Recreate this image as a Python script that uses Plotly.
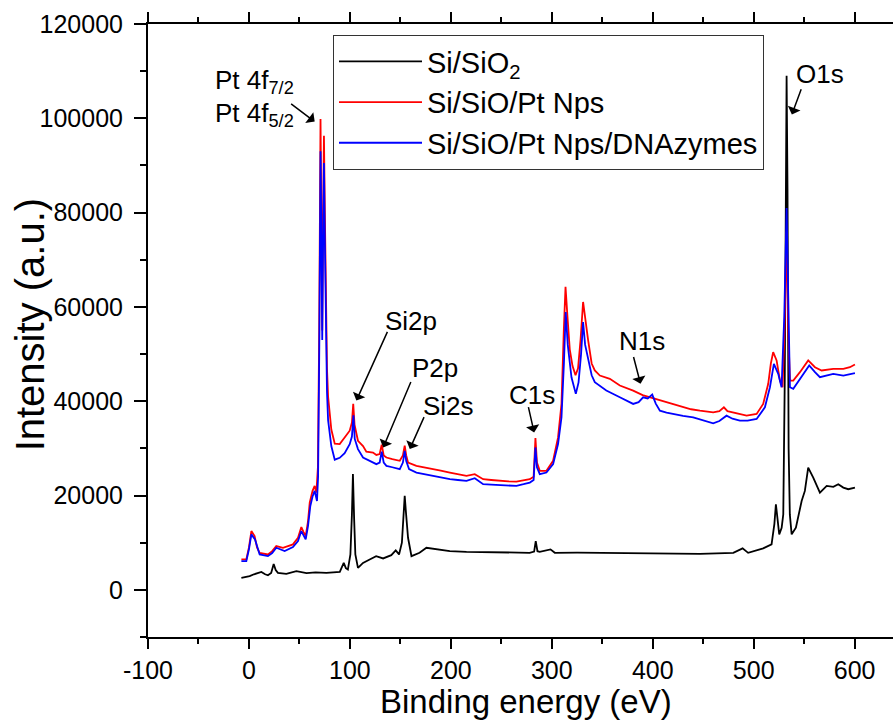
import plotly.graph_objects as go

# ---- data (binding energy eV, intensity a.u.) ----
black_x = [-7.5, -3, 0.7, 5, 12.3, 16, 18.8, 22, 24.5, 26.5, 28.7, 37, 47, 57, 66, 76.7, 85, 90, 93.9, 96, 98,
           100.5, 102, 103, 104.2, 105.4, 108, 113, 119.6, 126, 132.9, 141, 145.4, 148.7, 151.5, 153.3, 154.3,
           155.5, 157.6, 161, 169, 175.8, 185.7, 199, 215.5, 232, 248.5, 265, 278, 282.5, 284.1, 285.8, 288,
           298.7, 303, 325, 347.6, 380, 413.7, 446.7, 479.8, 489, 494.5, 509.4, 517.7, 520.5, 522, 523.5, 525.3,
           527.7, 529.3, 530.8, 531.8, 532.6, 533.5, 534.6, 535.8, 537.6, 541.8, 547.5, 550.7, 554, 559, 565.6,
           572.3, 578.9, 583.8, 588.8, 593.7, 600.3]
black_y = [2530, 2700, 2900, 3300, 3800, 3300, 3100, 3600, 5500, 4200, 3600, 3400, 3960, 3530, 3700, 3600, 3700,
           3800, 5720, 4600, 4300, 7500, 16000, 24540, 15000, 7500, 4660, 5720, 6450, 7150, 6660, 7360, 8360, 7510,
           10000, 17000, 19920, 16500, 11040, 7150, 7850, 8920, 8580, 8210, 8070, 8000, 7850, 7900, 7850, 8100,
           10340, 8200, 8070, 8580, 7850, 7900, 7850, 7640, 7640, 7640, 7850, 8790, 7850, 8790, 9640, 14000, 18150,
           14500, 11770, 13170, 16000, 45000, 85000, 109000, 85000, 30000, 16000, 11770, 13170, 18850, 20980,
           25940, 23810, 20620, 22050, 21830, 22400, 21680, 21340, 21680]

red_x = [-7.5, -2.6, 0, 2.4, 5.6, 8, 10.6, 18.8, 23, 27.1, 33.7, 43.6, 48.6, 51.9, 54, 56.2, 58.5, 60.2, 63, 65.1,
         66.8, 68.3, 69.6, 70.4, 70.9, 71.6, 72.6, 73.5, 74.3, 75.2, 76.3, 77.3, 78.4, 80, 81.6, 85, 89.9, 94.8,
         99.8, 102, 103.3, 104.6, 106.4, 108, 113, 116.3, 122.9, 126.2, 129.5, 131.5, 133.5, 136.2, 142, 149.4,
         152.5, 154.3, 155.8, 157.6, 165.9, 174, 182.4, 190, 199, 207, 215.5, 223.7, 232, 240, 248.5, 257, 265,
         272, 278.2, 282, 283.8, 285.3, 288.1, 294.7, 301.3, 306.2, 309.6, 311.9, 313.6, 315.5, 317.8, 320.5,
         323.5, 326, 328.5, 331, 333, 336, 339.5, 342.6, 347.6, 357.5, 367.4, 380.6, 390, 397.1, 405, 413.7, 422,
         430.2, 438, 446.7, 459.9, 466, 470.5, 474, 479.7, 486, 493, 502.9, 509.4, 514.4, 517, 519.3, 522.7, 526,
         528.6, 530.5, 532.6, 534.2, 535.9, 539.2, 545.8, 554, 560.7, 567.3, 578.8, 588.8, 595.3, 600.3]
red_y = [6450, 6450, 9000, 12470, 11400, 9000, 7850, 7510, 8200, 9280, 8920, 9640, 11040, 13320, 12300, 11400,
         14500, 18490, 21000, 22050, 20620, 26000, 55000, 85000, 99870, 82000, 55000, 80000, 96300, 80000, 60000,
         47000, 41000, 36500, 34000, 31000, 30900, 32300, 33750, 35500, 39430, 35000, 33500, 31620, 30500, 29300,
         29130, 28600, 28800, 30800, 28500, 28070, 27700, 27370, 28500, 30560, 28500, 27000, 26300, 26000, 25600,
         25300, 24880, 24500, 24170, 24530, 23470, 23300, 23110, 23000, 22960, 23200, 23470, 24000, 32200, 27000,
         25240, 25240, 27370, 32330, 39430, 55030, 64250, 58000, 51000, 47500, 45500, 47000, 53000, 61050, 57500,
         52900, 48000, 46520, 45450, 44750, 43330, 42260, 41300, 40840, 40300, 39770, 39200, 38710, 38300, 38000,
         37640, 37900, 38710, 37900, 37640, 37200, 36940, 37300, 39430, 43690, 48000, 50410, 48650, 44390, 42970,
         55000, 76000, 55000, 44390, 44390, 46160, 48650, 47220, 46520, 46880, 46880, 47220, 47800]

blue_x = [-7.5, -2.6, 0, 2.4, 6, 8.5, 10.6, 18.8, 23, 27.1, 35.4, 43.6, 48.6, 51.9, 54, 56.2, 58.5, 60.8, 63, 65.1,
          67.4, 68.5, 69.7, 70.4, 70.9, 71.6, 72.6, 73.5, 74.3, 75.2, 76.3, 77.3, 78.4, 80, 81.6, 85, 89.9, 94.8,
          99.8, 102, 103.5, 104.8, 106.4, 108, 113, 116.3, 122.9, 126.2, 129.5, 131.5, 133.5, 136.2, 142, 149.4,
          152.5, 154.3, 155.8, 158.6, 165.9, 174, 182.4, 190, 199, 207, 215.5, 223.7, 232, 240, 248.5, 257, 265,
          272, 278.2, 282, 283.8, 285.3, 288.1, 294.7, 301.3, 306.2, 309.6, 312, 313.8, 315.8, 319.5, 323.8, 326.5,
          329, 331, 333, 336, 339.5, 342.6, 347.6, 354, 367.4, 380.6, 386, 390.5, 395, 399.5, 403, 407.1, 413.7,
          420.3, 430, 440.1, 450, 459.9, 466, 473.1, 479, 486.3, 494, 502.9, 511.1, 516.1, 520, 524.3, 527.6,
          530.3, 532.6, 534.5, 535.9, 539.2, 545.8, 555, 560.7, 565.6, 578.8, 588.8, 600.3]
blue_y = [6090, 6090, 8600, 11770, 10700, 8700, 7510, 7150, 7800, 8920, 8210, 9070, 10340, 12470, 11500, 10700,
          13500, 17790, 19800, 20980, 18850, 24000, 52000, 80000, 93000, 78000, 53000, 75000, 90500, 74000, 55000,
          42000, 36000, 32500, 30500, 27600, 28000, 29000, 30900, 32500, 37000, 32000, 30900, 29850, 28070, 27730,
          27000, 26660, 27000, 29300, 27000, 26300, 26000, 25600, 27000, 29490, 27300, 25600, 24880, 24500, 24170,
          23800, 23470, 23300, 23110, 23680, 22410, 22300, 22260, 22100, 22050, 22400, 22750, 23300, 30200, 26000,
          24530, 24880, 26660, 30920, 36580, 48000, 58920, 52000, 45090, 41560, 44000, 50000, 56800, 52000, 48650,
          45500, 44030, 43330, 42260, 40840, 39430, 39800, 40840, 40600, 41410, 39500, 38000, 37600, 37300, 36900,
          36580, 36000, 35300, 35800, 36940, 36300, 35880, 35900, 36240, 38710, 42970, 47940, 45810, 42970, 58000,
          81000, 58000, 42970, 42620, 44750, 47580, 46160, 45090, 45810, 45450, 45940]

series_names = ["Si/SiO<sub>2</sub>", "Si/SiO/Pt Nps", "Si/SiO/Pt Nps/DNAzymes"]
series_colors = ["#000000", "#FF0000", "#0000FF"]

x_tick_vals = [-100, 0, 100, 200, 300, 400, 500, 600]
x_tick_text = ["-100", "0", "100", "200", "300", "400", "500", "600"]
y_tick_vals = [0, 20000, 40000, 60000, 80000, 100000, 120000]
y_tick_text = ["0", "20000", "40000", "60000", "80000", "100000", "120000"]

FONT = "Arial, Liberation Sans, sans-serif"

fig = go.Figure()
for xs, ys, name, col in zip([black_x, red_x, blue_x], [black_y, red_y, blue_y], series_names, series_colors):
    fig.add_trace(go.Scatter(x=xs, y=ys, mode="lines", name=name,
                             line=dict(color=col, width=1.8)))

# peak labels: (text, text_x, text_y, arrow_tail_x, arrow_tail_y, head_x, head_y)
labels = [
    ("Si2p", 160.3, 56950, 137.8, 55030, 106.4, 40130),
    ("P2p", 184.5, 47050, 161.0, 44390, 133.0, 30200),
    ("Si2s", 198.0, 38900, 174.1, 36940, 159.3, 29850),
    ("C1s", 280.7, 41410, 276.5, 39070, 282.5, 33390),
    ("N1s", 389.7, 52690, 380.6, 49710, 387.9, 43690),
    ("O1s", 565.6, 109500, 547.6, 106500, 537.8, 100800),
]
ann = []
for t, tx, ty, axx, ayy, hx, hy in labels:
    ann.append(dict(x=tx, y=ty, xref="x", yref="y", text=t, showarrow=False,
                    font=dict(family=FONT, size=26, color="black")))
    ann.append(dict(x=hx, y=hy, ax=axx, ay=ayy, xref="x", yref="y", axref="x", ayref="y",
                    text="", showarrow=True, arrowhead=1, arrowsize=1.5, arrowwidth=1.5,
                    arrowcolor="black"))
# Pt labels
ann.append(dict(x=-36, y=107800, xref="x", yref="y", xanchor="left", text="Pt 4f<sub>7/2</sub>",
                showarrow=False, font=dict(family=FONT, size=26, color="black")))
ann.append(dict(x=-36, y=100800, xref="x", yref="y", xanchor="left", text="Pt 4f<sub>5/2</sub>",
                showarrow=False, font=dict(family=FONT, size=26, color="black")))
ann.append(dict(x=65.1, y=99300, ax=40.3, ay=103300, xref="x", yref="y", axref="x", ayref="y",
                text="", showarrow=True, arrowhead=1, arrowsize=1.5, arrowwidth=1.5, arrowcolor="black"))
# axis titles
ann.append(dict(x=(30 - 148) / 745, y=0.51, xref="paper", yref="paper", text="Intensity (a.u.)",
                textangle=-90, showarrow=False, xanchor="center", yanchor="middle",
                font=dict(family=FONT, size=40, color="black")))
ann.append(dict(x=0.508, y=(637 - 701) / 613, xref="paper", yref="paper", text="Binding energy (eV)",
                showarrow=False, xanchor="center", yanchor="middle",
                font=dict(family=FONT, size=33, color="black")))

fig.update_layout(
    width=893, height=722,
    margin=dict(l=148, r=0, t=24, b=85),
    paper_bgcolor="white", plot_bgcolor="white",
    font=dict(family=FONT, color="black"),
    showlegend=True,
    legend=dict(x=(333 - 148) / 745, y=(637 - 35) / 613, xanchor="left", yanchor="top",
                bgcolor="white", bordercolor="#333333", borderwidth=1,
                font=dict(family=FONT, size=29, color="black"), itemwidth=83,
                tracegroupgap=0),
    annotations=ann,
)
fig.update_xaxes(range=[-100, 638], showgrid=False, zeroline=False, showline=True, linecolor="black",
                 linewidth=2, mirror="ticks", ticks="outside", ticklen=10, tickwidth=2, tickcolor="black",
                 tickmode="array", tickvals=x_tick_vals, ticktext=x_tick_text,
                 tickfont=dict(family=FONT, size=25, color="black"),
                 minor=dict(dtick=50, tick0=0, ticks="outside", ticklen=5, tickwidth=2, tickcolor="black"))
fig.update_yaxes(range=[-10000, 120000], showgrid=False, zeroline=False, showline=True, linecolor="black",
                 linewidth=2, ticks="outside", ticklen=12, tickwidth=2, tickcolor="black",
                 tickmode="array", tickvals=y_tick_vals, ticktext=y_tick_text,
                 tickfont=dict(family=FONT, size=25, color="black"),
                 ticklabelstandoff=6,
                 minor=dict(dtick=10000, tick0=0, ticks="outside", ticklen=6, tickwidth=2, tickcolor="black"))

fig.write_html("out.html")
